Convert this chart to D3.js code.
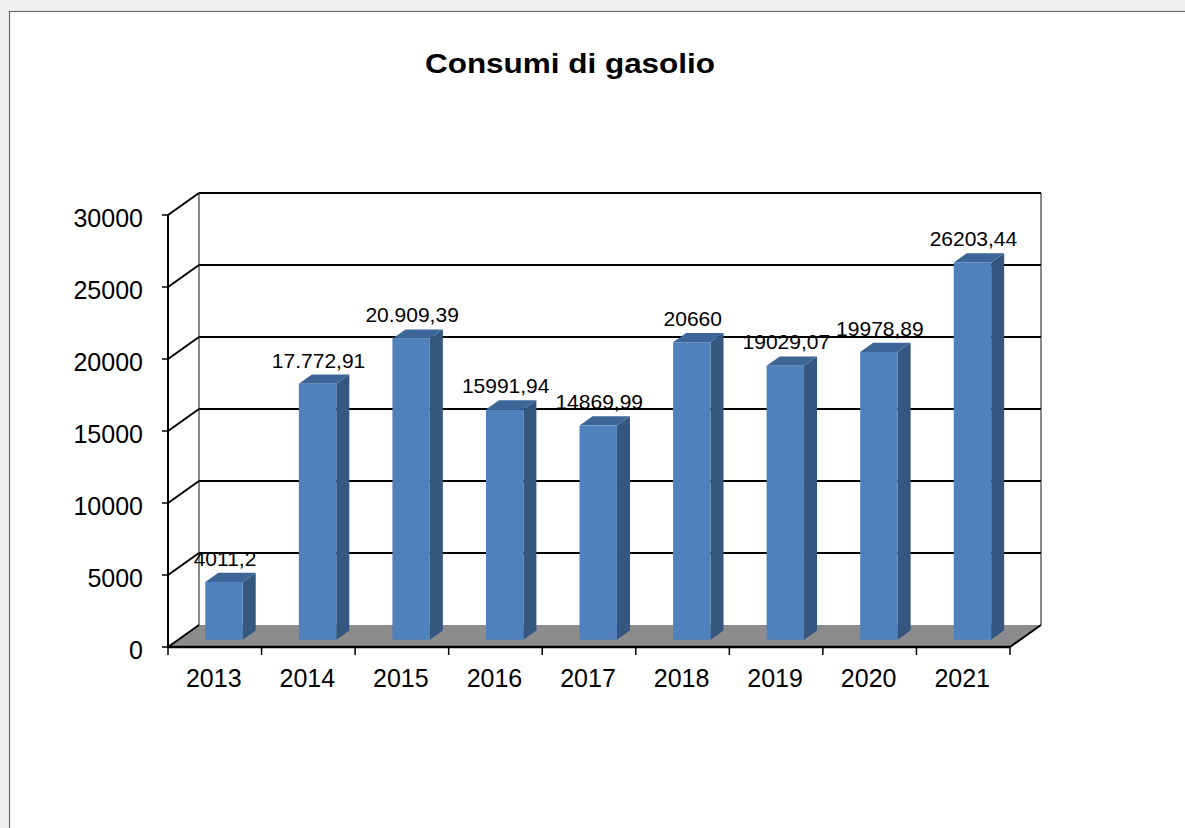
<!DOCTYPE html>
<html><head><meta charset="utf-8">
<script src="https://cdn.jsdelivr.net/npm/d3@7"></script>
<style>
html,body{margin:0;padding:0;background:#f0f0f0;}
svg{display:block;font-family:"Liberation Sans",Arial,sans-serif;}
</style></head>
<body>
<svg id="c" width="1185" height="828"></svg>
<script>
const years = ["2013","2014","2015","2016","2017","2018","2019","2020","2021"];
const values = [4011.2, 17772.91, 20909.39, 15991.94, 14869.99, 20660, 19029.07, 19978.89, 26203.44];
const labels = ["4011,2","17.772,91","20.909,39","15991,94","14869,99","20660","19029,07","19978,89","26203,44"];
const yTicks = [0,5000,10000,15000,20000,25000,30000];
const title = "Consumi di gasolio";

const svg = d3.select("#c");
// page frame
svg.append("rect").attr("x",9.5).attr("y",11.5).attr("width",1180).attr("height",820)
  .attr("fill","#fff").attr("stroke","#6a6a6a").attr("stroke-width",1.2);

const x0 = 168, x1 = 1010, yBase = 647, yTop = 215;
const DX = 31, DY = -22;
const y = d3.scaleLinear().domain([0,30000]).range([yBase,yTop]);
const x = d3.scaleBand().domain(years).range([x0,x1]).paddingInner(0.6).paddingOuter(0.3);

const g = svg.append("g");

// back wall verticals
g.append("line").attr("x1",x0+DX).attr("x2",x0+DX).attr("y1",yTop+DY).attr("y2",yBase+DY).attr("stroke","#8a8a8a").attr("stroke-width",2);
g.append("line").attr("x1",x1+DX).attr("x2",x1+DX).attr("y1",yTop+DY).attr("y2",yBase+DY).attr("stroke","#8a8a8a").attr("stroke-width",2);

// gridlines on back wall and side wall
yTicks.forEach(t=>{
  if(t===0) return;
  g.append("line").attr("x1",x0+DX).attr("x2",x1+DX).attr("y1",y(t)+DY).attr("y2",y(t)+DY).attr("stroke","#000").attr("stroke-width",2);
  g.append("line").attr("x1",x0).attr("x2",x0+DX).attr("y1",y(t)).attr("y2",y(t)+DY).attr("stroke","#000").attr("stroke-width",2);
});

// floor
g.append("path").attr("d",`M${x0},${yBase}L${x1},${yBase}L${x1+DX},${yBase+DY}L${x0+DX},${yBase+DY}Z`)
  .attr("fill","#8c8c8c");
g.append("line").attr("x1",x0).attr("x2",x0+DX).attr("y1",yBase).attr("y2",yBase+DY).attr("stroke","#000").attr("stroke-width",2);
g.append("line").attr("x1",x1).attr("x2",x1+DX).attr("y1",yBase).attr("y2",yBase+DY).attr("stroke","#000").attr("stroke-width",2);

// bars
const fF = 0.33, fB = 0.75;
const bars = g.selectAll("g.bar").data(years.map((yr,i)=>({yr,v:values[i],lab:labels[i]}))).enter().append("g");
bars.each(function(d){
  const s = d3.select(this);
  const xl = x(d.yr) + DX*fF - 1, xr = xl + x.bandwidth();
  const yb = y(0) + DY*fF, yt = y(d.v) + DY*fF;
  const ddx = DX*(fB-fF), ddy = DY*(fB-fF);
  // side
  s.append("path").attr("d",`M${xr},${yb}L${xr+ddx},${yb+ddy}L${xr+ddx},${yt+ddy}L${xr},${yt}Z`).attr("fill","#34567f");
  // top
  s.append("path").attr("d",`M${xl},${yt}L${xr},${yt}L${xr+ddx},${yt+ddy}L${xl+ddx},${yt+ddy}Z`).attr("fill","#3d6698");
  // front
  s.append("rect").attr("x",xl).attr("y",yt).attr("width",x.bandwidth()).attr("height",yb-yt).attr("fill","#4f81bd");
  // label
  s.append("text").attr("x",(xl+xr)/2+1).attr("y",yt+ddy-7).attr("text-anchor","middle")
    .attr("font-size",21).attr("fill","#000").text(d.lab);
});

// front left axis
g.append("line").attr("x1",x0).attr("x2",x0).attr("y1",yTop).attr("y2",yBase).attr("stroke","#000").attr("stroke-width",2);
// front bottom axis
g.append("line").attr("x1",x0).attr("x2",x1).attr("y1",yBase).attr("y2",yBase).attr("stroke","#000").attr("stroke-width",2.5);

// y ticks
yTicks.forEach(t=>{
  g.append("line").attr("x1",x0-6).attr("x2",x0).attr("y1",y(t)).attr("y2",y(t)).attr("stroke","#000").attr("stroke-width",1.5);
  g.append("text").attr("x",143).attr("y",y(t)+12).attr("text-anchor","end")
    .attr("font-size",25).attr("fill","#000").text(t);
});

// x ticks
for(let i=0;i<=years.length;i++){
  const xx = x0 + i*(x1-x0)/years.length;
  g.append("line").attr("x1",xx).attr("x2",xx).attr("y1",yBase).attr("y2",yBase+8).attr("stroke","#000").attr("stroke-width",1.5);
}
years.forEach(yr=>{
  g.append("text").attr("x",x(yr)+x.bandwidth()/2-1).attr("y",687).attr("text-anchor","middle")
    .attr("font-size",25).attr("fill","#000").text(yr);
});

// title
svg.append("text").attr("x",570).attr("y",73).attr("text-anchor","middle")
  .attr("font-size",27).attr("font-weight","bold").attr("fill","#000")
  .attr("textLength",290).attr("lengthAdjust","spacingAndGlyphs").text(title);
</script>
</body></html>
